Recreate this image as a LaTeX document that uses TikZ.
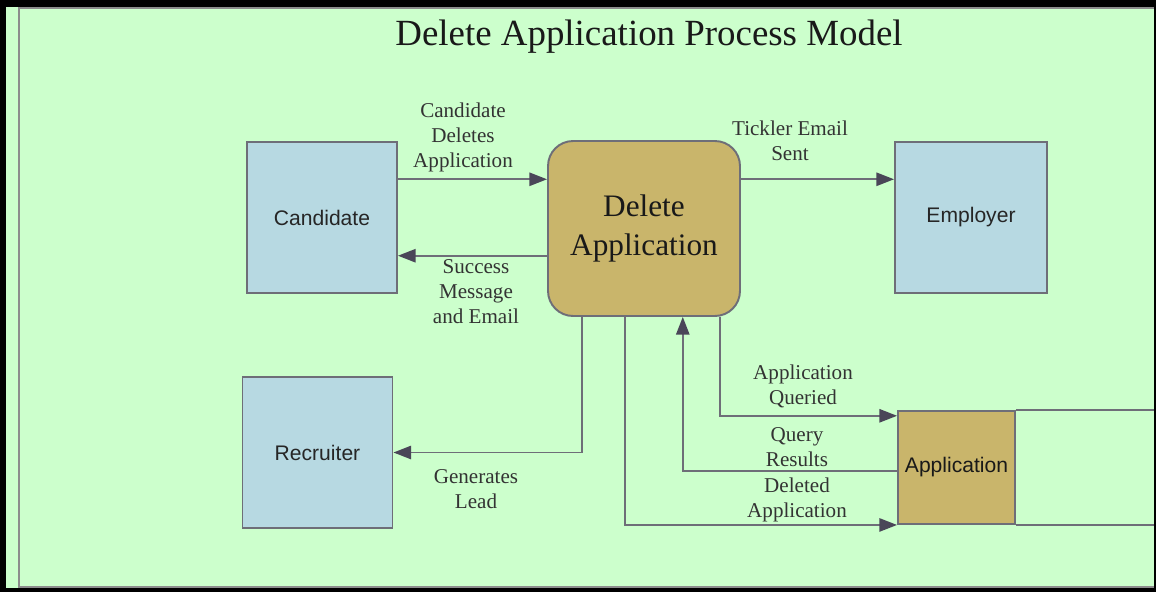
\documentclass[tikz,border=0pt]{standalone}
\usepackage{fontspec}
\setmainfont{Liberation Serif}
\setsansfont{Liberation Sans}
\usetikzlibrary{arrows.meta, calc}

\definecolor{pagegreen}{HTML}{CCFFCC}
\definecolor{actorblue}{HTML}{B7D9E2}
\definecolor{procgold}{HTML}{C9B56B}
\definecolor{edgegray}{HTML}{6E6E78}
\definecolor{tipgray}{HTML}{4A4658}
\definecolor{rimgray}{HTML}{8C8C8C}

\begin{document}
\begin{tikzpicture}[
    x=0.02cm, y=-0.02cm,
    entity_box/.style={draw=edgegray, line width=1.1pt, fill=actorblue, minimum width=3.0cm, minimum height=3.02cm, font=\sffamily\fontsize{12}{14}\selectfont, text=black!85},
    process_box/.style={draw=edgegray, line width=1.1pt, fill=procgold, rounded corners=0.5cm, minimum width=3.84cm, minimum height=3.5cm, align=center, font=\fontsize{17.8}{22}\selectfont, text=black!90},
    store_box/.style={draw=edgegray, line width=1.1pt, fill=procgold, minimum width=2.34cm, minimum height=2.26cm, font=\sffamily\fontsize{12}{14}\selectfont, text=black!90},
    store_line/.style={draw=edgegray, line width=1.1pt},
    flow_label/.style={align=center, font=\fontsize{12}{14.2}\selectfont, text=black!80},
    arrow/.style={-{Triangle[length=10pt, width=7.5pt, color=tipgray]}, draw=edgegray, line width=1.1pt}
]
\useasboundingbox (0,0) rectangle (1156,592);

% Page frame
\fill[black] (0,0) rectangle (1156,592);
\fill[pagegreen] (6,7) rectangle (1154,588);
\draw[rimgray, line width=0.9pt] (19,7) -- (19,588);
\draw[rimgray, line width=0.9pt] (19,8) -- (1154,8);
\draw[rimgray, line width=0.9pt] (19,587) -- (1154,587);

% Title
\node[font=\fontsize{21}{25}\selectfont, text=black!90] (title) at (649,37) {Delete Application Process Model};

% External entities
\node[entity_box] (cand) at (322,217.5) {Candidate};
\node[entity_box, minimum width=3.04cm] (emp) at (971,217.5) {Employer};
\node[entity_box] (rec) at (317.5,452.5) {Recruiter};

% Process and data store
\node[process_box] (del) at (644,228.5) {Delete\\Application};
\node[store_box] (app) at (956.5,467.5) {Application};
\coordinate (rim) at (1154,0);
\draw[store_line] (app.north east) -- (app.north east -| rim);
\draw[store_line] (app.south east) -- (app.south east -| rim);

% Attach points
\coordinate (c1) at ($(cand.north east)!0.25!(cand.south east)$);
\coordinate (c2) at ($(cand.north east)!0.75!(cand.south east)$);
\coordinate (e1) at ($(emp.north west)!0.25!(emp.south west)$);
\coordinate (d1) at ($(del.south west)!0.18!(del.south east)$);
\coordinate (d2) at ($(del.south west)!0.4!(del.south east)$);
\coordinate (d3) at ($(del.south west)!0.7!(del.south east)$);
\coordinate (d4) at ($(del.south west)!0.89!(del.south east)$);
\coordinate (a1) at ($(app.north west)!0.53!(app.south west)$);
\coordinate (a2) at ($(app.north west)!0.05!(app.south west)$);

% Data flows
\draw[arrow] (c1) -- (c1 -| del.west);
\draw[arrow] (c2 -| del.west) -- (c2);
\draw[arrow] (e1 -| del.east) -- (e1);
\draw[arrow] (d1) |- (rec.east);
\draw[arrow] (d2) |- (app.south west);
\draw[arrow] (a1) -| (d3);
\draw[arrow] (d4) |- (a2);

% Flow labels
\node[flow_label] (l_cand) at (463,137) {Candidate\\Deletes\\Application};
\node[flow_label] (l_succ) at (476,292) {Success\\Message\\and Email};
\node[flow_label] (l_tick) at (790,141) {Tickler Email\\Sent};
\node[flow_label] (l_lead) at (476,489) {Generates\\Lead};
\node[flow_label] (l_qry) at (803,386) {Application\\Queried};
\node[flow_label] (l_res) at (797,447) {Query\\Results};
\node[flow_label] (l_delt) at (797,500) {Deleted\\Application};

\end{tikzpicture}
\end{document}
